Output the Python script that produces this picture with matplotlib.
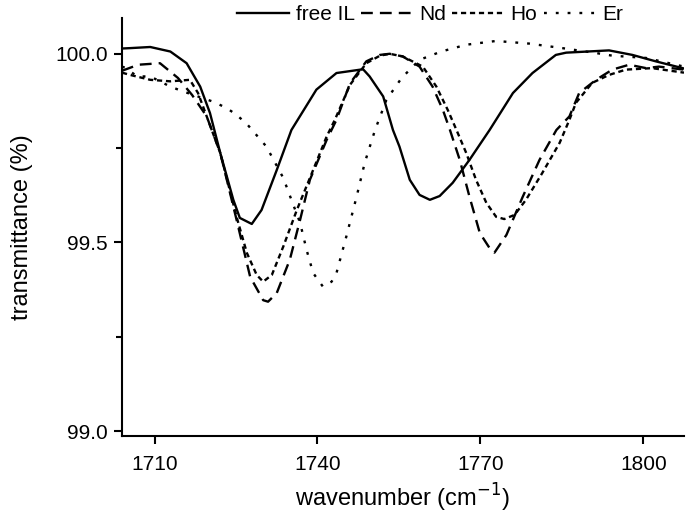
import matplotlib
matplotlib.use("Agg")
from matplotlib import pyplot as plt
from matplotlib.ticker import MultipleLocator

plt.rcParams['font.family'] = ['Liberation Sans', 'DejaVu Sans']

# free IL (solid)
il_x = [1704.0, 1705.5, 1709.2, 1712.9, 1715.9, 1718.4, 1720.2, 1722.1, 1724.5, 1725.7, 1727.9,
        1729.7, 1732.5, 1735.2, 1739.8, 1743.5, 1748.4, 1749.6, 1752.1, 1753.9, 1755.1, 1757.0,
        1758.8, 1760.7, 1762.5, 1764.9, 1768.0, 1771.7, 1776.0, 1779.6, 1783.9, 1785.8, 1793.7,
        1798.0, 1802.3, 1807.5]
il_y = [100.014, 100.015, 100.018, 100.006, 99.975, 99.913, 99.843, 99.737, 99.613, 99.565, 99.549,
        99.586, 99.692, 99.798, 99.905, 99.949, 99.959, 99.940, 99.887, 99.798, 99.754, 99.666,
        99.626, 99.613, 99.623, 99.658, 99.719, 99.798, 99.896, 99.949, 99.997, 100.003, 100.009,
        99.997, 99.980, 99.961]

# Nd (long dash)
nd_x = [1704.0, 1707.0, 1711.0, 1714.3, 1716.9, 1719.6, 1722.1, 1725.1, 1727.6, 1730.0, 1730.9,
        1732.5, 1734.9, 1736.8, 1738.6, 1741.7, 1743.5, 1746.0, 1749.0, 1751.5, 1753.3, 1755.7,
        1758.8, 1761.2, 1763.1, 1764.4, 1766.2, 1768.0, 1769.9, 1771.7, 1772.6, 1774.8, 1777.8,
        1780.9, 1784.0, 1786.4, 1788.2, 1791.3, 1794.3, 1797.4, 1800.5, 1802.9, 1807.5]
nd_y = [99.955, 99.971, 99.975, 99.936, 99.891, 99.834, 99.737, 99.560, 99.409, 99.347, 99.343,
        99.366, 99.454, 99.560, 99.666, 99.772, 99.825, 99.922, 99.980, 99.997, 100.000, 99.993,
        99.966, 99.913, 99.851, 99.798, 99.719, 99.621, 99.525, 99.485, 99.473, 99.520, 99.621,
        99.719, 99.798, 99.834, 99.896, 99.931, 99.958, 99.971, 99.962, 99.966, 99.958]

# Ho (short dash)
ho_x = [1704.0, 1705.5, 1709.2, 1712.9, 1716.5, 1718.0, 1719.6, 1722.1, 1725.1, 1727.0, 1728.8,
        1730.0, 1731.6, 1733.7, 1736.2, 1739.2, 1741.7, 1743.2, 1746.0, 1749.0, 1751.5, 1753.3,
        1755.7, 1759.4, 1761.9, 1764.0, 1765.6, 1767.4, 1769.2, 1771.1, 1772.9, 1774.4, 1776.3,
        1778.4, 1781.4, 1784.6, 1786.4, 1787.6, 1790.6, 1793.7, 1796.8, 1801.6, 1807.5]
ho_y = [99.950, 99.944, 99.931, 99.927, 99.931, 99.896, 99.834, 99.737, 99.568, 99.472, 99.414,
        99.396, 99.414, 99.489, 99.586, 99.692, 99.781, 99.825, 99.918, 99.975, 99.995, 100.000,
        99.993, 99.966, 99.913, 99.851, 99.798, 99.737, 99.666, 99.605, 99.568, 99.562, 99.573,
        99.613, 99.684, 99.764, 99.825, 99.870, 99.923, 99.944, 99.958, 99.962, 99.950]

# Er (dotted)
er_x = [1704.0, 1704.6, 1706.8, 1709.2, 1712.9, 1715.3, 1720.8, 1723.3, 1725.1, 1727.0, 1730.6,
        1733.7, 1735.2, 1736.8, 1738.0, 1739.2, 1741.0, 1742.6, 1743.5, 1745.3, 1747.2, 1748.7,
        1750.6, 1752.7, 1755.5, 1758.8, 1762.8, 1767.4, 1772.9, 1779.0, 1785.1, 1791.3, 1794.3,
        1800.5, 1804.8, 1807.5]
er_y = [99.966, 99.963, 99.940, 99.940, 99.913, 99.900, 99.873, 99.856, 99.838, 99.814, 99.754,
        99.671, 99.613, 99.552, 99.480, 99.419, 99.383, 99.396, 99.419, 99.515, 99.621, 99.711,
        99.798, 99.878, 99.936, 99.984, 100.006, 100.024, 100.034, 100.027, 100.015, 100.002, 99.995,
        99.989, 99.975, 99.966]

x_ticks = [1710, 1740, 1770, 1800]
y_ticks = [99.0, 99.5, 100.0]

fig = plt.figure(figsize=(6.87, 5.2), dpi=100)
ax = fig.add_axes([0.1776, 0.1615, 0.818, 0.804])

ax.plot(il_x, il_y, color='black', lw=1.7, ls='-', label='free IL')
ax.plot(nd_x, nd_y, color='black', lw=1.7, ls=(0, (5, 3)), label='Nd')
ax.plot(ho_x, ho_y, color='black', lw=1.7, ls=(0, (2.2, 1.6)), label='Ho')
ax.plot(er_x, er_y, color='black', lw=1.7, ls=(0, (1.2, 3.8)), label='Er')

ax.set_xlim(1704.0, 1807.5)
ax.set_ylim(98.987, 100.095)
ax.set_xticks(x_ticks)
ax.set_yticks(y_ticks)
ax.yaxis.set_minor_locator(MultipleLocator(0.25))
ax.yaxis.set_major_formatter(matplotlib.ticker.FormatStrFormatter('%.1f'))

for s in ['top', 'right']:
    ax.spines[s].set_visible(False)
for s in ['left', 'bottom']:
    ax.spines[s].set_linewidth(1.5)
ax.tick_params(axis='both', which='major', direction='out', length=6, width=1.5, labelsize=15, pad=4)
ax.tick_params(axis='x', which='major', pad=8)
ax.tick_params(axis='y', which='minor', direction='out', length=4, width=1.5)

ax.set_xlabel('wavenumber (cm$^{-1}$)', fontsize=17, labelpad=5)
ax.set_ylabel('transmittance (%)', fontsize=17, labelpad=16)

ax.legend(loc='lower center', bbox_to_anchor=(0.548, 0.965), ncol=4, frameon=False, fontsize=15,
          handlelength=2.5, handletextpad=0.3, columnspacing=0.3, borderaxespad=0)

fig.savefig('out.png', dpi=100)
